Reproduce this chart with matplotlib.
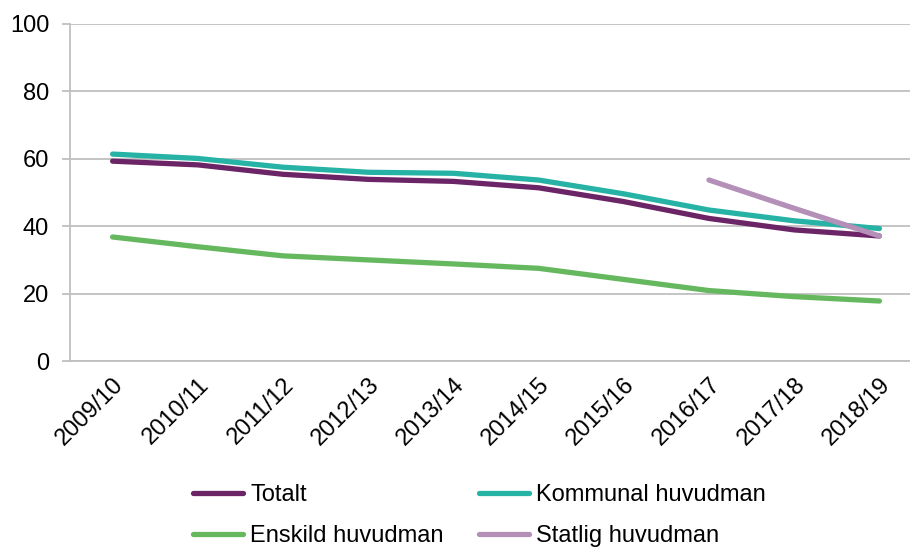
import matplotlib.pyplot as plt

years = ['2009/10', '2010/11', '2011/12', '2012/13', '2013/14',
         '2014/15', '2015/16', '2016/17', '2017/18', '2018/19']
totalt = [59.3, 58.2, 55.4, 53.9, 53.3, 51.4, 47.3, 42.3, 38.9, 37.1]
kommunal = [61.4, 60.1, 57.5, 56.0, 55.7, 53.7, 49.6, 44.8, 41.6, 39.3]
enskild = [36.8, 33.9, 31.2, 30.0, 28.8, 27.5, 24.2, 20.9, 19.1, 17.8]
statlig_years = ['2016/17', '2017/18', '2018/19']
statlig = [53.7, 45.3, 37.1]

plt.rcParams['font.family'] = ['Liberation Sans', 'DejaVu Sans']

fig = plt.figure(figsize=(9.1, 5.49), dpi=100)
ax = fig.add_axes([70 / 910, 1 - 361 / 549, 852 / 910, 337 / 549])

x = list(range(len(years)))
xs = [years.index(y) for y in statlig_years]
lw = 3.8
l1, = ax.plot(x, totalt, color='#6B2566', lw=lw, solid_capstyle='round', label='Totalt', zorder=3)
l2, = ax.plot(x, kommunal, color='#26B2A5', lw=lw, solid_capstyle='round', label='Kommunal huvudman', zorder=3)
l3, = ax.plot(x, enskild, color='#66B85F', lw=lw, solid_capstyle='round', label='Enskild huvudman', zorder=3)
l4, = ax.plot(xs, statlig, color='#B48FB8', lw=lw, solid_capstyle='round', label='Statlig huvudman', zorder=4)

ax.set_xlim(-0.5, len(years) - 0.5)
ax.set_ylim(0, 100)
ax.set_yticks(range(0, 101, 20))
ax.set_xticks(x)
ax.set_xticklabels(years, rotation=45, ha='right', rotation_mode='anchor')

ax.grid(axis='y', color='#BFBFBF', lw=1.3)
ax.set_axisbelow(True)
for s in ['top', 'right']:
    ax.spines[s].set_visible(False)
for s in ['left', 'bottom']:
    ax.spines[s].set_color('#BFBFBF')
    ax.spines[s].set_linewidth(1.3)

ax.tick_params(axis='y', length=6, width=1.3, color='#BFBFBF', labelsize=17, pad=9)
ax.tick_params(axis='x', length=0, labelsize=17, pad=9)

# row-wise legend order: matplotlib fills columns first
fig.legend([l1, l3, l2, l4], [h.get_label() for h in [l1, l3, l2, l4]],
           loc='center', bbox_to_anchor=(479.5 / 910, 1 - 515.5 / 549), ncol=2,
           frameon=False, fontsize=17, handlelength=2.1, handletextpad=0.3,
           columnspacing=1.5, labelspacing=0.8)

fig.savefig('out.png', dpi=100)
